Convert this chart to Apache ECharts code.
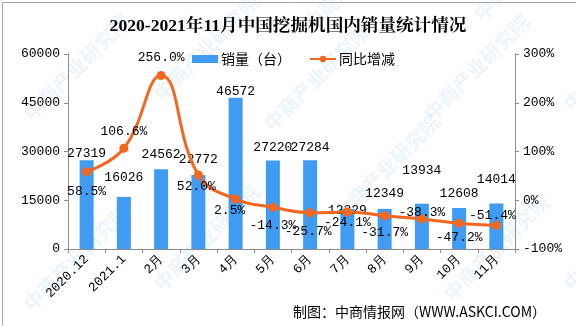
<!DOCTYPE html>
<html>
<head>
<meta charset="utf-8">
<script src="https://cdn.jsdelivr.net/npm/echarts@6/dist/echarts.min.js"></script>
<style>
  html, body { margin: 0; padding: 0; background: #fff; }
  #chart { width: 576px; height: 326px; }
</style>
</head>
<body>
<div id="chart"></div>
<script>
// 2020.12 – 2021.11 domestic excavator sales and year-on-year change
const months = ['2020.12', '2021.1', '2月', '3月', '4月', '5月', '6月', '7月', '8月', '9月', '10月', '11月'];
const sales = [27319, 16026, 24562, 22772, 46572, 27220, 27284, 12329, 12349, 13934, 12608, 14014];
const yoy = [58.5, 106.6, 256.0, 52.0, 2.5, -14.3, -25.7, -24.1, -31.7, -38.3, -47.2, -51.4];
const leftTicks = [0, 15000, 30000, 45000, 60000];
const rightTicks = [-100, 0, 100, 200, 300];

const BAR = '#3f9cf2';
const LINE = '#f5661f';
const MONO = '"Liberation Mono", "DejaVu Sans Mono", monospace';
const CJK = '"Noto Sans CJK SC", "Liberation Sans", sans-serif';

// vertical nudges for the sales labels so they clear the curve and its labels
const barLabelShift = [0, -13, -8, -9, 0, -6, -6, 8, -9, -27, -8, -17];
// offsets of the percentage labels around each point
const lineLabelShift = [[0, 20], [0, -17], [0, -18], [-2, 12], [-6, 12], [0, 18], [-2, 19], [0, 11], [0, 17], [0, -6], [0, 14], [-4, -10]];

const barData = sales.map((v, i) => ({
  value: v,
  label: { offset: [0, barLabelShift[i]] }
}));
const lineData = yoy.map((v, i) => ({
  value: v,
  label: { offset: lineLabelShift[i] }
}));

// faint diagonal watermark text
const wmSpots = [[20, 110], [20, 300], [150, 90], [150, 280], [260, 120], [330, 210], [420, 110], [440, 290], [560, 100], [560, 280], [300, 20], [470, 10]];
const watermarks = wmSpots.map(p => ({
  type: 'text',
  x: p[0], y: p[1],
  rotation: Math.PI / 4,
  silent: true,
  z: 0,
  style: {
    text: '中商产业研究院',
    fill: 'rgba(110,170,225,0.13)',
    font: 'bold 20px ' + CJK
  }
}));

const chart = echarts.init(document.getElementById('chart'), null, { renderer: 'canvas' });
chart.setOption({
  animation: false,
  backgroundColor: '#fff',
  title: {
    text: '2020-2021年11月中国挖掘机国内销量统计情况',
    left: 'center',
    top: 13,
    textStyle: {
      fontFamily: '"Liberation Serif", "Noto Serif CJK SC", "Noto Sans CJK SC", serif',
      fontWeight: 'bold',
      fontSize: 17.6,
      color: '#000'
    }
  },
  legend: {
    left: 187,
    top: 47,
    itemWidth: 26,
    itemHeight: 8,
    itemGap: 18,
    textStyle: { fontFamily: CJK, fontSize: 14, color: '#000', padding: [0, 0, 0, -2] },
    data: [
      { name: '销量（台）', icon: 'rect' },
      { name: '同比增减' }
    ]
  },
  grid: { left: 68, right: 61, top: 54, bottom: 77, containLabel: false },
  xAxis: {
    type: 'category',
    data: months,
    boundaryGap: true,
    axisLine: { lineStyle: { color: '#8c8c8c', width: 1 } },
    axisTick: { show: true, length: 4, alignWithLabel: false, lineStyle: { color: '#8c8c8c' } },
    axisLabel: {
      rotate: 45,
      margin: 8,
      fontFamily: MONO,
      fontSize: 13,
      color: '#000',
      interval: 0
    }
  },
  yAxis: [
    {
      type: 'value',
      min: leftTicks[0],
      max: leftTicks[leftTicks.length - 1],
      interval: leftTicks[1] - leftTicks[0],
      axisLine: { show: true, lineStyle: { color: '#8c8c8c' } },
      axisTick: { show: true, length: 4, lineStyle: { color: '#8c8c8c' } },
      splitLine: { show: false },
      axisLabel: { fontFamily: MONO, fontSize: 13, color: '#000', margin: 8, formatter: v => String(v) }
    },
    {
      type: 'value',
      min: rightTicks[0],
      max: rightTicks[rightTicks.length - 1],
      interval: rightTicks[1] - rightTicks[0],
      axisLine: { show: true, lineStyle: { color: '#8c8c8c' } },
      axisTick: { show: true, length: 4, lineStyle: { color: '#8c8c8c' } },
      splitLine: { show: false },
      axisLabel: { fontFamily: MONO, fontSize: 13, color: '#000', margin: 8, formatter: v => v + '%' }
    }
  ],
  series: [
    {
      name: '销量（台）',
      type: 'bar',
      yAxisIndex: 0,
      barWidth: 14,
      itemStyle: { color: BAR },
      label: {
        show: true,
        position: 'top',
        distance: 0,
        fontFamily: MONO,
        fontSize: 13,
        color: '#000'
      },
      data: barData,
      z: 2
    },
    {
      name: '同比增减',
      type: 'line',
      yAxisIndex: 1,
      smooth: 0.45,
      symbol: 'circle',
      symbolSize: 9,
      itemStyle: { color: LINE },
      lineStyle: { color: LINE, width: 3 },
      label: {
        show: true,
        position: 'inside',
        fontFamily: MONO,
        fontSize: 13,
        color: '#000',
        formatter: p => p.value.toFixed(1) + '%'
      },
      data: lineData,
      z: 3
    }
  ],
  graphic: [
    ...watermarks,
    {
      type: 'text',
      left: 293,
      top: 305,
      silent: true,
      style: {
        text: '制图：中商情报网（WWW.ASKCI.COM）',
        fill: '#000',
        font: '14px ' + CJK
      }
    },
    {
      type: 'rect',
      left: 0, top: 0,
      silent: true,
      shape: { x: 0.5, y: 0.5, width: 575, height: 325 },
      style: { fill: 'none', stroke: '#a6a6a6', lineWidth: 1 }
    }
  ]
});
</script>
</body>
</html>
